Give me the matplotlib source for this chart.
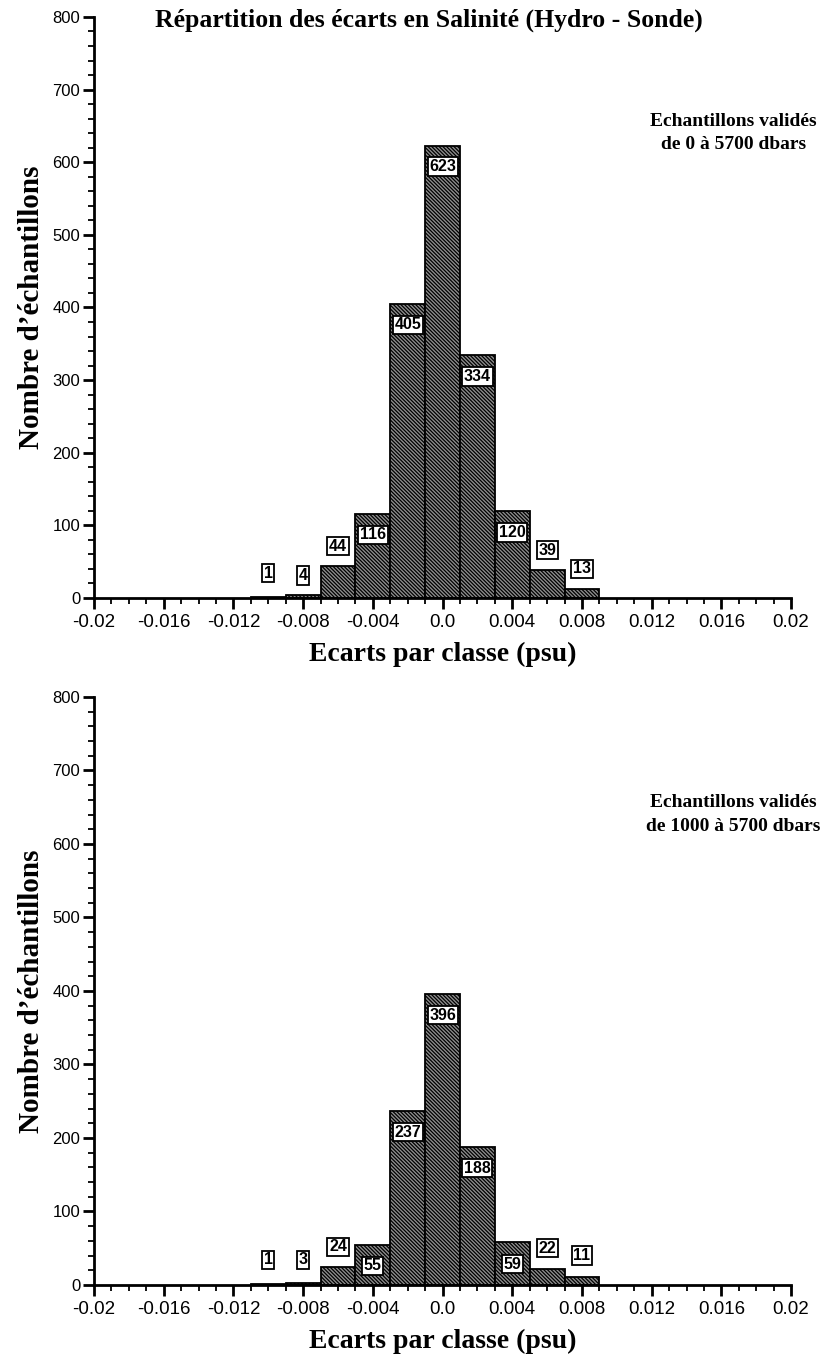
import numpy as np
import matplotlib
matplotlib.use("Agg")
from matplotlib import pyplot as plt

# classes de 0.002 psu centrees sur les valeurs ci-dessous
centres = [-0.010, -0.008, -0.006, -0.004, -0.002, 0.0, 0.002, 0.004, 0.006, 0.008]
n_0_5700 = [1, 4, 44, 116, 405, 623, 334, 120, 39, 13]
n_1000_5700 = [1, 3, 24, 55, 237, 396, 188, 59, 22, 11]

# position verticale des etiquettes (en nombre d'echantillons)
lab_0_5700 = [34, 31, 71, 87, 376, 594, 305, 90, 66, 40]
lab_1000_5700 = [34, 34, 52, 26, 208, 367, 159, 28, 50, 40]

largeur = 0.002
xticks = [-0.02, -0.016, -0.012, -0.008, -0.004, 0.0, 0.004, 0.008, 0.012, 0.016, 0.02]
xticklabels = ["-0.02", "-0.016", "-0.012", "-0.008", "-0.004", "0.0",
               "0.004", "0.008", "0.012", "0.016", "0.02"]

plt.rcParams["hatch.linewidth"] = 0.9
serif = "Liberation Serif"
sans = "Liberation Sans"

fig = plt.figure(figsize=(8.22, 13.68), dpi=100)
ax1 = fig.add_axes([0.1144, 0.5629, 0.848, 0.4247])
ax2 = fig.add_axes([0.1144, 0.0607, 0.848, 0.4298])


def histo(ax, valeurs, pos_lab, texte):
    ax.bar(centres, valeurs, width=largeur, align="center", color="#8e8e8e",
           edgecolor="black", linewidth=1.3, hatch="\\" * 9, zorder=2)
    for x, v, yl in zip(centres, valeurs, pos_lab):
        ax.text(x, yl, str(v), ha="center", va="center", fontsize=11.5,
                fontweight="bold", family=sans, zorder=4,
                bbox=dict(boxstyle="square,pad=0.1", fc="white", ec="black", lw=1.3))
    ax.set_xlim(-0.02, 0.02)
    ax.set_ylim(0, 800)
    ax.spines["top"].set_visible(False)
    ax.spines["right"].set_visible(False)
    ax.spines["left"].set_linewidth(2)
    ax.spines["bottom"].set_linewidth(2)
    ax.set_xticks(xticks)
    ax.set_xticklabels(xticklabels, family=sans, fontsize=13.5)
    ax.set_xticks(np.arange(-0.02, 0.02001, 0.001), minor=True)
    ax.set_yticks(range(0, 801, 100))
    ax.set_yticklabels([str(v) for v in range(0, 801, 100)], family=sans, fontsize=12)
    ax.set_yticks(range(0, 801, 20), minor=True)
    ax.tick_params(which="major", length=8, width=2, direction="out")
    ax.tick_params(which="minor", length=4, width=1.3, direction="out")
    ax.tick_params(axis="y", which="major", pad=2)
    ax.set_xlabel("Ecarts par classe (psu)", family=serif, fontweight="bold",
                  fontsize=20, labelpad=8)
    ax.set_ylabel("Nombre d\u2019\u00e9chantillons", family=serif, fontweight="bold",
                  fontsize=21, labelpad=5)
    ax.text(0.0167, 640, texte, ha="center", va="center", family=serif,
            fontweight="bold", fontsize=14, linespacing=1.5)


histo(ax1, n_0_5700, lab_0_5700, "Echantillons valid\u00e9s\nde 0 \u00e0 5700 dbars")
histo(ax2, n_1000_5700, lab_1000_5700, "Echantillons valid\u00e9s\nde 1000 \u00e0 5700 dbars")

fig.text(0.522, 0.985, "R\u00e9partition des \u00e9carts en Salinit\u00e9 (Hydro - Sonde)",
         ha="center", va="center", family=serif, fontweight="bold", fontsize=18.5)

fig.savefig("out.png", dpi=100)
